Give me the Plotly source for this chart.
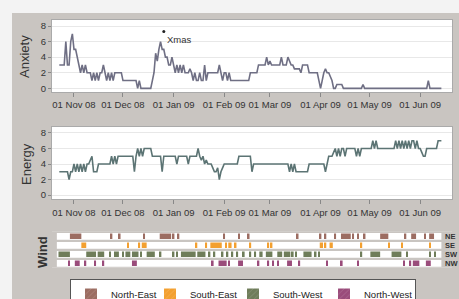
import pandas as pd
import plotly.graph_objects as go

start_date = "2008-10-23"

anxiety = [
    3, 3, 3, 3, 6, 3, 3, 6, 7,
    5, 5, 4, 3, 2, 3, 2, 3, 2, 2, 2, 1, 2, 1, 2, 1, 2, 2, 3, 2, 1, 2, 1, 2, 1, 2, 2, 2, 2, 2,
    1, 1, 1, 1, 1, 1, 1, 1, 1, 0, 1, 0, 0, 0, 0, 0, 0, 0, 1, 2, 4.5, 3.5, 5, 6, 5, 5, 4, 4, 3, 3, 4,
    3, 2, 3, 2, 3, 2, 3, 2, 2, 2, 2.5, 2, 1, 2, 1, 1, 2, 1, 1, 3, 1, 2, 2, 2, 2, 2, 2, 2, 3, 2, 1,
    2, 2, 1, 2, 1, 1, 1, 1, 1, 1, 1, 1, 1, 1, 1, 1, 2, 2, 2, 2, 2, 3, 3, 3, 3, 3, 4, 3,
    3.5, 3, 3, 3, 3, 3, 3, 4, 3, 3, 3, 4, 3.5, 3, 3, 2.5, 2.5, 2.5, 2.5, 2, 3, 3, 3, 3, 2, 2, 2, 2, 2, 2, 1,
    0, 1, 2, 2.5, 2, 2, 1.5, 1, 0, 0, 0.5, 0.5, 0.5, 0.5, 0, 0, 0, 0, 0, 0, 0, 0, 0, 0, 0, 0, 0.5, 0, 0, 0,
    0, 0, 0, 0, 0, 0, 0, 0, 0, 0, 0, 0, 0, 0, 0, 0, 0, 0, 0, 0, 0, 0, 0, 0, 0, 0, 0, 0, 0, 0, 0,
    0, 0, 0, 0, 0, 1, 0, 0, 0, 0, 0, 0, 0, 0,
]

energy = [
    3, 3, 3, 3, 3, 3, 2, 3, 3,
    4, 3, 4, 3, 4, 3, 4, 3, 4, 4, 4.5, 5, 3, 3, 3, 4, 4, 4, 4, 4, 4, 4, 4, 5, 4, 5, 4, 5, 5, 5,
    5, 5, 5, 5, 5, 5, 5, 3, 5, 6, 5, 6, 5, 6, 6, 6, 6, 6, 5, 5, 5, 5, 5, 5, 3, 5, 5, 5, 5, 5, 5,
    5, 5, 4, 5, 5, 5, 5, 5, 5, 4, 5, 5, 5, 5, 5, 6, 5, 4.5, 5, 4, 4.5, 4, 4, 4, 3.5, 3, 3, 3.5, 2, 3, 3.5,
    4, 4, 4, 4, 4, 4, 4, 4, 4, 5, 5, 5, 5, 5, 5, 5, 5, 3, 4, 4, 4, 4, 4, 4, 4, 4, 4, 4,
    4, 4, 4, 4, 4, 4, 4, 4, 4, 4, 4, 4, 3, 4, 3, 4, 3, 3, 3, 3, 3, 3, 3, 3, 4, 4, 4, 4, 4, 4, 4,
    4, 4, 4, 3, 4, 5, 5, 5, 5.5, 6, 5, 6, 5, 6, 6, 5, 6, 6, 6, 6, 6, 6, 5, 6, 5, 6, 6, 6, 6, 6,
    6, 6, 7, 6, 7, 6, 6, 6, 6, 6, 6, 6, 6, 6, 6, 6, 7, 6, 7, 6, 7, 6, 7, 6, 7, 6, 7, 7, 6, 7, 6,
    6, 5.5, 5, 5, 6, 6, 6, 6, 6, 6, 6, 7, 7, 7,
]

# wind direction days (offsets in days from start_date)
wind_ne = [7, 8, 9, 10, 11, 12, 13, 32, 37, 52, 62, 63, 64, 65, 66, 67, 68, 70, 73, 101, 110, 116,
           146, 160, 163, 169, 173, 174, 175, 176, 177, 178, 180, 183, 187, 197, 198, 199, 200, 201,
           212, 216, 217, 218, 224, 227, 228, 229]
wind_se = [14, 15, 16, 42, 49, 51, 52, 53, 84, 90, 93, 94, 95, 96, 97, 98, 99, 102, 104, 105, 108,
           117, 128, 130, 160, 161, 163, 166, 167, 185, 202, 210, 227]
wind_sw = [0, 1, 2, 3, 4, 5, 6, 17, 18, 19, 20, 21, 22, 24, 25, 26, 27, 31, 34, 35, 36, 39, 41, 42, 43,
           45, 46, 47, 48, 50, 54, 55, 56, 57, 58, 62, 70, 72, 75, 76, 77, 78, 79, 80, 81, 82, 83,
           85, 86, 87, 88, 89, 92, 95, 100, 103, 106, 109, 113, 117, 120, 123, 124, 127, 128, 129, 130,
           134, 135, 136, 138, 139, 140, 141, 143, 145, 150, 151, 152, 153, 154, 157, 159, 185,
           191, 192, 193, 194, 195, 196, 204, 205, 206, 207, 208, 209, 213, 227, 230]
wind_nw = [6, 10, 11, 12, 16, 22, 27, 45, 46, 47, 94, 98, 99, 100, 101, 102, 104, 110, 111, 112,
           122, 128, 131, 134, 140, 141, 142, 147, 164, 173, 183, 211, 215, 217, 218, 219, 220,
           225, 226, 227]

wind_codes = ["NE", "SE", "SW", "NW"]
wind_names = ["North-East", "South-East", "South-West", "North-West"]
wind_colors = ["#9c6d62", "#f3a030", "#6f7d5a", "#9a4c7b"]
legend_widths = [34, 38, 46, 46]

xmas_date = "2008-12-26"
xmas_marker_y = 7.3
xmas_label = "Xmas"

tick_dates = ["2008-11-01", "2008-12-01", "2009-01-01", "2009-02-01",
              "2009-03-01", "2009-04-01", "2009-05-01", "2009-06-01"]

W, H = 459, 299
dates = pd.date_range(start_date, periods=len(anxiety), freq="D")
DAY_MS = 86400000


def runs(days):
    days = sorted(days)
    out = []
    s = p = days[0]
    for d in days[1:]:
        if d == p + 1:
            p = d
        else:
            out.append((s, p))
            s = p = d
    out.append((s, p))
    return out


def px_x(v):
    return v / W


def px_y(v):
    return 1 - v / H


fig = go.Figure()

fig.add_trace(go.Scatter(x=dates, y=anxiety, mode="lines", line=dict(color="#6f6f84", width=1.6),
                         xaxis="x", yaxis="y", showlegend=False, hoverinfo="skip"))
fig.add_trace(go.Scatter(x=[xmas_date], y=[xmas_marker_y], mode="markers",
                         marker=dict(color="#222", size=3), xaxis="x", yaxis="y",
                         showlegend=False, hoverinfo="skip"))
fig.add_trace(go.Scatter(x=dates, y=energy, mode="lines", line=dict(color="#5c7474", width=1.6),
                         xaxis="x2", yaxis="y2", showlegend=False, hoverinfo="skip"))

# white strips behind wind rows
strip_base = dates[0] - pd.Timedelta(days=1.5)
strip_len = (dates[-1] - strip_base).total_seconds() * 1000
fig.add_trace(go.Bar(y=wind_codes, x=[strip_len] * 4, base=[strip_base] * 4, orientation="h",
                     marker=dict(color="white", line=dict(width=0)), width=0.74,
                     xaxis="x3", yaxis="y3", showlegend=False, hoverinfo="skip"))

for code, name, color, days, lw in zip(wind_codes, wind_names, wind_colors,
                                       [wind_ne, wind_se, wind_sw, wind_nw], legend_widths):
    rr = runs(days)
    bases = [dates[0] + pd.Timedelta(days=s - 0.5) for s, e in rr]
    lens = [(e - s + 1) * DAY_MS for s, e in rr]
    fig.add_trace(go.Bar(y=[code] * len(rr), x=lens, base=bases, orientation="h",
                         marker=dict(color=color, line=dict(width=0)), width=0.6,
                         xaxis="x3", yaxis="y3", name=name, showlegend=False, hoverinfo="skip"))
    fig.add_trace(go.Bar(y=[None], x=[None], orientation="h", name=name, legendwidth=lw,
                         marker=dict(color=color, line=dict(width=0),
                                     pattern=dict(shape="/", fgcolor="rgba(255,255,255,0.35)", size=5)),
                         xaxis="x3", yaxis="y3", showlegend=True, hoverinfo="skip"))

xrange = ["2008-10-18 12:45", "2009-06-20 12:00"]
font_tick = dict(family="Arial", size=9.5, color="#333")
xcommon = dict(type="date", range=xrange, tickvals=tick_dates, tickformat="%d %b %y",
               ticks="outside", ticklen=4, tickcolor="#888", tickfont=font_tick,
               showgrid=False, showline=True, mirror=True, linecolor="#aaa", linewidth=1,
               zeroline=False, domain=[px_x(52), px_x(452)])
ycommon = dict(tickvals=[0, 2, 4, 6, 8], ticks="outside", ticklen=3, tickcolor="#888",
               tickfont=font_tick, showgrid=True, gridcolor="#e8e8e8", gridwidth=1,
               zeroline=False, showline=True, mirror=True, linecolor="#aaa", linewidth=1)

fig.update_layout(
    width=W, height=H,
    margin=dict(l=0, r=0, t=0, b=0, autoexpand=False),
    paper_bgcolor="#c9c5c1",
    plot_bgcolor="white",
    font=dict(family="Arial", color="#333"),
    barmode="overlay",
    xaxis=dict(xcommon, anchor="y"),
    yaxis=dict(ycommon, range=[-0.47, 8.77], domain=[px_y(92), px_y(20)], anchor="x"),
    xaxis2=dict(xcommon, anchor="y2"),
    yaxis2=dict(ycommon, range=[-0.55, 8.81], domain=[px_y(199.3), px_y(126.7)], anchor="x2"),
    xaxis3=dict(type="date", range=xrange, domain=[px_x(52), px_x(452)], anchor="y3",
                showticklabels=False, ticks="", showgrid=False, showline=False, zeroline=False),
    yaxis3=dict(type="category", categoryarray=wind_codes, range=[3.5, -0.5],
                domain=[px_y(267.8), px_y(231.8)], anchor="x3", showticklabels=False,
                ticks="", showgrid=False, showline=False, zeroline=False),
    legend=dict(orientation="h", x=px_x(70), xanchor="left", y=px_y(279), yanchor="top",
                bgcolor="white", bordercolor="#555", borderwidth=1, entrywidthmode="pixels",
                font=dict(family="Arial", size=9.5, color="#222"), traceorder="normal"),
)

shapes = [
    dict(type="rect", xref="paper", yref="paper", x0=0, x1=1, y0=px_y(13), y1=1,
         fillcolor="#f3f3f3", line=dict(width=0), layer="below"),
    dict(type="rect", xref="paper", yref="paper", x0=0, x1=px_x(12), y0=0, y1=1,
         fillcolor="#f3f3f3", line=dict(width=0), layer="below"),
    dict(type="rect", xref="x3 domain", yref="y3 domain", x0=0, x1=1, y0=0, y1=1,
         fillcolor="#c9c5c1", line=dict(width=0), layer="below"),
]
fig.update_layout(shapes=shapes)

annos = [
    dict(text="Anxiety", x=px_x(25), y=px_y(57), textangle=-90),
    dict(text="Energy", x=px_x(26), y=px_y(164), textangle=-90),
    dict(text="<b>Wind</b>", x=px_x(42), y=px_y(252), textangle=-90),
]
for a in annos:
    fig.add_annotation(xref="paper", yref="paper", showarrow=False, xanchor="center", yanchor="middle",
                       font=dict(family="Arial", size=13, color="#333"), **a)

fig.add_annotation(x=xmas_date, y=xmas_marker_y, xref="x", yref="y", text=xmas_label, showarrow=False,
                   xanchor="left", yanchor="top", xshift=1, yshift=-1,
                   font=dict(family="Arial", size=9.5, color="#333"))

for code in wind_codes:
    fig.add_annotation(x=dates[-1], y=code, xref="x3", yref="y3", text=f"<b>{code}</b>", showarrow=False,
                       xanchor="left", yanchor="middle", xshift=2,
                       font=dict(family="Arial", size=7.5, color="#333"))

fig.write_html("out.html", config={"displayModeBar": False}, post_script=(
    "document.documentElement.style.margin='0';document.body.style.margin='0';"
    "document.body.style.overflow='hidden';"))
